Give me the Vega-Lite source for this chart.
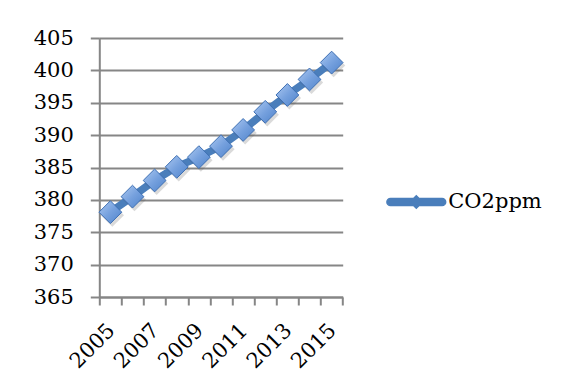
{
  "$schema": "https://vega.github.io/schema/vega-lite/v6.json",
  "width": 243.4,
  "height": 259,
  "autosize": "none",
  "padding": {"left": 99.3, "top": 38, "right": 218.3, "bottom": 95},
  "background": "white",
  "config": {"view": {"stroke": null}, "font": "DejaVu Serif"},
  "data": {
    "values": [
      {"year": 2005, "ppm": 378.1, "series": "CO2ppm"},
      {"year": 2006, "ppm": 380.5, "series": "CO2ppm"},
      {"year": 2007, "ppm": 383.0, "series": "CO2ppm"},
      {"year": 2008, "ppm": 385.1, "series": "CO2ppm"},
      {"year": 2009, "ppm": 386.6, "series": "CO2ppm"},
      {"year": 2010, "ppm": 388.3, "series": "CO2ppm"},
      {"year": 2011, "ppm": 390.8, "series": "CO2ppm"},
      {"year": 2012, "ppm": 393.6, "series": "CO2ppm"},
      {"year": 2013, "ppm": 396.2, "series": "CO2ppm"},
      {"year": 2014, "ppm": 398.6, "series": "CO2ppm"},
      {"year": 2015, "ppm": 401.2, "series": "CO2ppm"}
    ]
  },
  "encoding": {
    "x": {
      "field": "year",
      "type": "quantitative",
      "scale": {"domain": [2004.5, 2015.5], "nice": false, "zero": false},
      "axis": {
        "title": null,
        "grid": false,
        "values": [2004.5, 2005.5, 2006.5, 2007.5, 2008.5, 2009.5, 2010.5, 2011.5, 2012.5, 2013.5, 2014.5, 2015.5],
        "labelExpr": "(datum.value + 0.5) % 2 == 1 ? format(datum.value + 0.5, 'd') : ''",
        "labelAngle": -45,
        "labelAlign": "right",
        "labelBaseline": "middle",
        "labelOffset": 12,
        "labelPadding": 22,
        "labelOverlap": false,
        "labelFlush": false,
        "labelBound": false,
        "labelFont": "DejaVu Serif",
        "labelFontSize": 21,
        "labelColor": "#000000",
        "tickSize": 8,
        "tickColor": "#868686",
        "tickWidth": 2,
        "domainColor": "#868686",
        "domainWidth": 2
      }
    },
    "y": {
      "field": "ppm",
      "type": "quantitative",
      "scale": {"domain": [365, 405], "nice": false, "zero": false},
      "axis": {
        "title": null,
        "values": [365, 370, 375, 380, 385, 390, 395, 400, 405],
        "grid": true,
        "gridColor": "#868686",
        "gridWidth": 2,
        "domainColor": "#868686",
        "domainWidth": 2,
        "tickColor": "#868686",
        "tickWidth": 2,
        "tickSize": 9,
        "labelPadding": 17,
        "labelFont": "DejaVu Serif",
        "labelFontSize": 21,
        "labelColor": "#000000"
      }
    }
  },
  "layer": [
    {
      "mark": {"type": "line", "strokeWidth": 7.5},
      "encoding": {
        "color": {
          "field": "series",
          "type": "nominal",
          "scale": {"range": ["#4a7ebb"]},
          "legend": {
            "title": null,
            "orient": "none",
            "legendX": 286,
            "legendY": 133,
            "padding": 0,
            "symbolOffset": 0,
            "labelOffset": 1,
            "symbolSize": 3600,
            "symbolType": "M-0.86,-0.12 L0.86,-0.12 A0.12,0.12 0 0 1 0.86,0.12 L-0.86,0.12 A0.12,0.12 0 0 1 -0.86,-0.12 Z M-0.21,0 L0,-0.21 L0.21,0 L0,0.21 Z",
            "labelFont": "DejaVu Serif",
            "labelFontSize": 21,
            "labelColor": "#000000",
            "encode": {
              "symbols": {
                "update": {
                  "fill": {"value": "#4a7ebb"},
                  "stroke": {"value": "transparent"},
                  "opacity": {"value": 1}
                }
              }
            }
          }
        }
      }
    },
    {
      "mark": {
        "type": "point",
        "shape": "diamond",
        "size": 540,
        "filled": true,
        "opacity": 0.22,
        "fill": "#555555",
        "xOffset": 2,
        "yOffset": 3
      }
    },
    {
      "mark": {
        "type": "point",
        "shape": "diamond",
        "size": 520,
        "filled": true,
        "opacity": 1,
        "fill": {
          "gradient": "linear",
          "x1": 0, "y1": 0, "x2": 1, "y2": 1,
          "stops": [
            {"offset": 0, "color": "#adc9f1"},
            {"offset": 0.5, "color": "#76a1de"},
            {"offset": 1, "color": "#4f83cb"}
          ]
        },
        "stroke": "#3d6fb3",
        "strokeWidth": 1
      }
    }
  ]
}
